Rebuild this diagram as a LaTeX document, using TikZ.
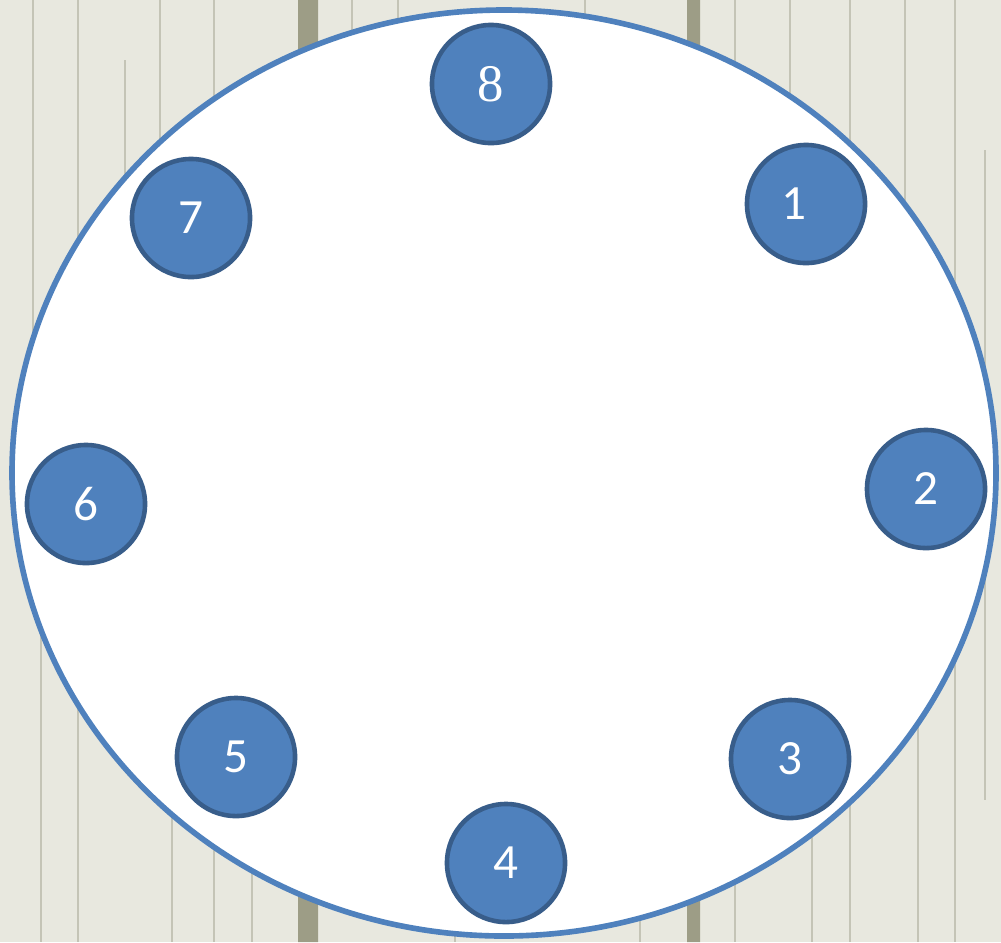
\documentclass[tikz,border=0pt]{standalone}
\usepackage{fontspec}
\setmainfont{Carlito}
\newfontfamily\numserif{Liberation Serif}
\usepackage{xcolor}
\usepackage{tikz}
\definecolor{woodbg}{HTML}{E8E8DF}
\definecolor{woodgap}{HTML}{9D9D86}
\definecolor{woodline}{HTML}{C4C4B6}
\definecolor{ringblue}{HTML}{4F81BD}
\definecolor{seatedge}{HTML}{385D8A}

\begin{document}
\begin{tikzpicture}[x=0.01cm,y=-0.01cm,
  seat/.style={circle,draw=seatedge,line width=1.3pt,fill=ringblue,minimum size=1.18cm,inner sep=0pt,text=white,font=\fontsize{14}{16}\selectfont}]
\useasboundingbox(0,0)rectangle(1001,942);
\fill[woodbg](0,0)rectangle(1001,942);
\fill[woodgap](298,0)rectangle(318,942)
(687,0)rectangle(700,942);
\foreach \gx/\ya/\yb in {33/0/420,41/500/942,78/0/942,125/60/700,160/0/330,172/380/942,214/0/942,252/120/942,
  352/0/200,398/0/120,455/880/942,585/0/60,640/880/942,735/0/942,790/0/500,812/520/942,850/0/942,
  905/0/380,918/430/942,955/0/942,985/150/800}
  \draw[woodline,line width=0.4pt](\gx,\ya)--(\gx,\yb);
\draw[ringblue,line width=1.6pt,fill=white](504,473)ellipse[x radius=492,y radius=463];
\node[seat](s1)at(806,204){\hspace*{-0.24cm}1};
\node[seat](s2)at(926,489){2};
\node[seat](s3)at(790,759){3};
\node[seat](s4)at(506,863){4};
\node[seat](s5)at(236,757){5};
\node[seat](s6)at(86,504){6};
\node[seat](s7)at(191,218){7};
\node[seat,font=\numserif\fontsize{15}{17}\selectfont](s8)at(491,84){8};
\end{tikzpicture}
\end{document}
